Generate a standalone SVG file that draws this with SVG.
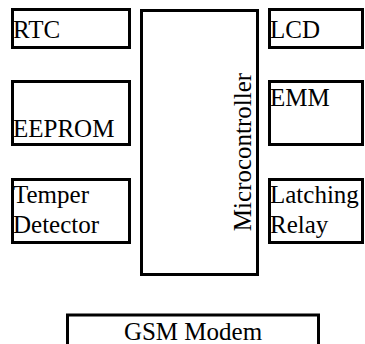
<svg xmlns="http://www.w3.org/2000/svg" width="365" height="344" viewBox="0 0 365 344">
<style>
.b{fill:#fff;stroke:#000;stroke-width:3}
.t{font-family:"Liberation Serif","Times New Roman",serif;font-size:25px;fill:#000}
</style>
<rect width="365" height="344" fill="#fff"/>
<g id="rtc"><rect class="b" x="12.5" y="9.5" width="117" height="38"/><text class="t" x="13" y="38">RTC</text></g>
<g id="eeprom"><rect class="b" x="12.5" y="81.5" width="117" height="63"/><text class="t" x="13" y="137">EEPROM</text></g>
<g id="temper"><rect class="b" x="12.5" y="179.5" width="117" height="63"/><text class="t" x="13" y="203">Temper</text><text class="t" x="13" y="233">Detector</text></g>
<g id="micro"><rect class="b" x="141.5" y="10.5" width="116" height="264"/><text class="t" text-anchor="middle" transform="translate(251,152) rotate(-90)">Microcontroller</text></g>
<g id="lcd"><rect class="b" x="269.5" y="9.5" width="93" height="38"/><text class="t" x="270" y="38">LCD</text></g>
<g id="emm"><rect class="b" x="269.5" y="81.5" width="93" height="63"/><text class="t" x="270" y="106">EMM</text></g>
<g id="relay"><rect class="b" x="269.5" y="179.5" width="93" height="63"/><text class="t" x="270" y="203">Latching</text><text class="t" x="270" y="233">Relay</text></g>
<g id="gsm"><rect class="b" x="67.5" y="315" width="251" height="40"/><text class="t" text-anchor="middle" x="193" y="340">GSM Modem</text></g>
<g id="connectors"></g>
</svg>
